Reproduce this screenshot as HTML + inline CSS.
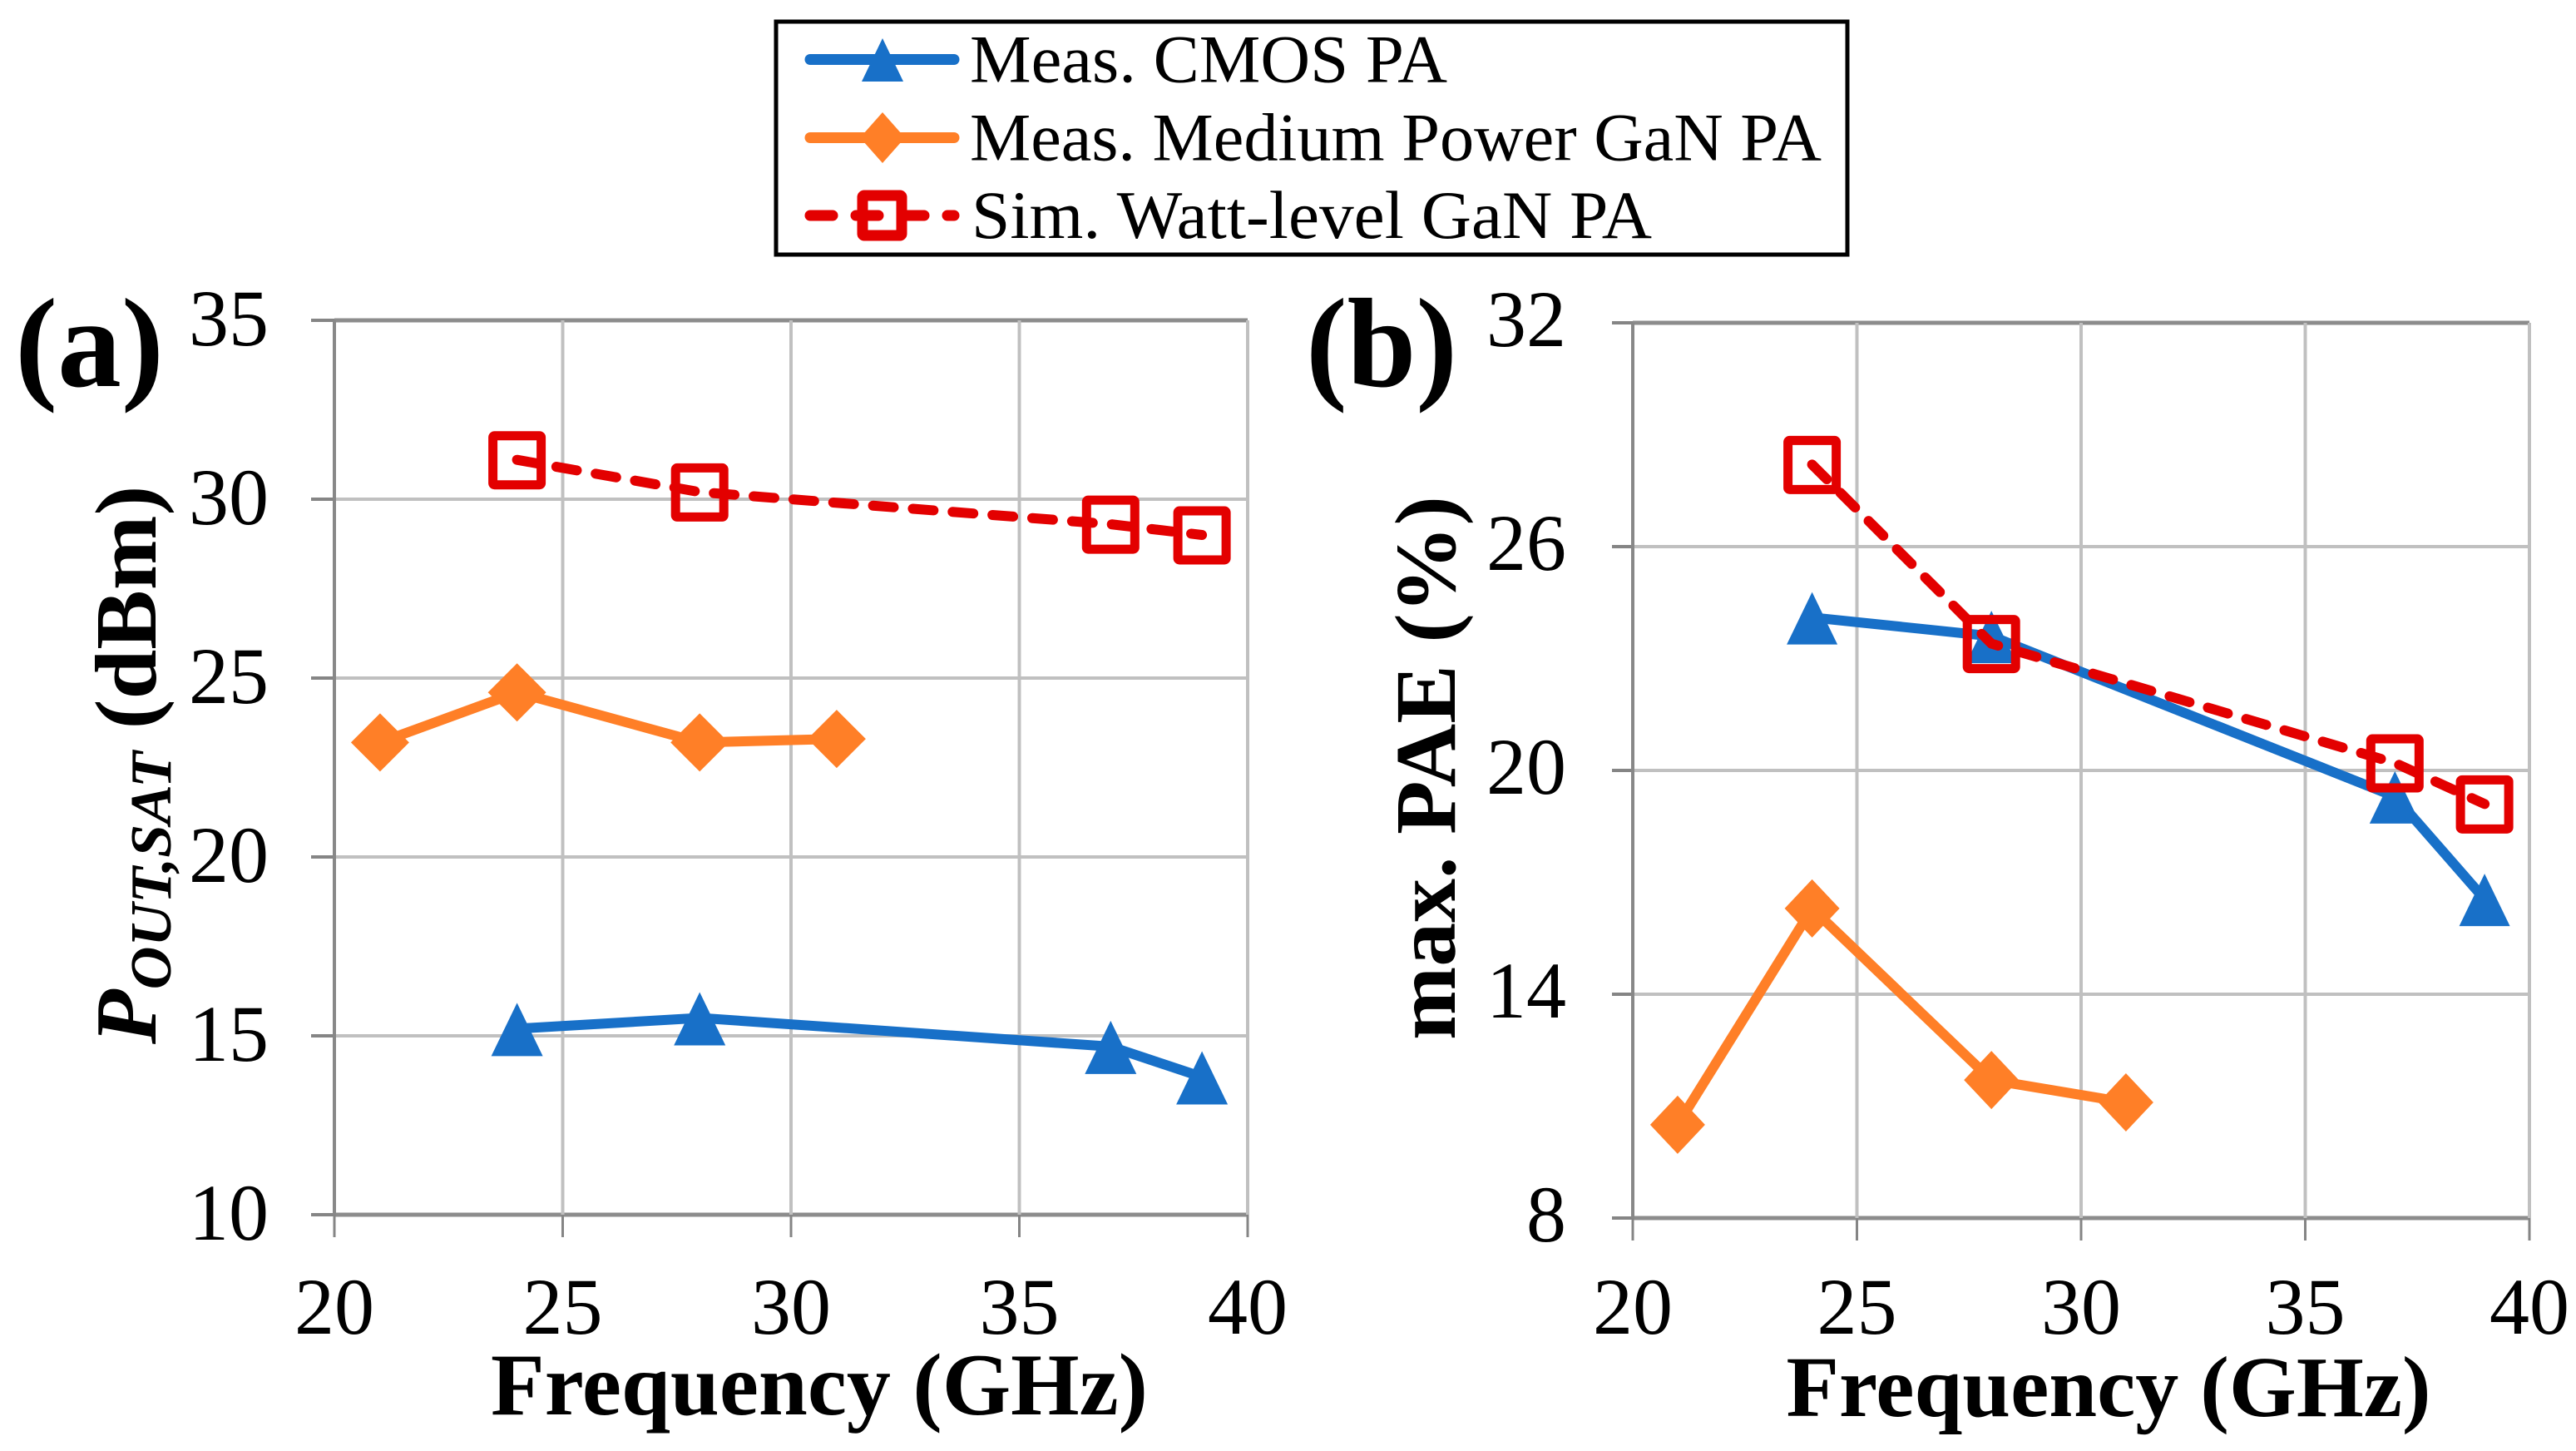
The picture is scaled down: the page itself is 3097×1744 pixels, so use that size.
<!DOCTYPE html>
<html lang="en">
<head>
<meta charset="utf-8">
<title>PA comparison: saturated output power and max PAE vs frequency</title>
<style>
html,body{margin:0;padding:0;background:#fff;width:3097px;height:1744px;overflow:hidden}
svg{display:block}
text{font-family:"Liberation Serif","Times New Roman",serif;fill:#000}
.tick{font-size:96px}
.title{font-size:105px;font-weight:bold}
.panel{font-size:153px;font-weight:bold}
.legend{font-size:82px}
</style>
</head>
<body>
<svg id="figure" xmlns="http://www.w3.org/2000/svg" width="3097" height="1744" viewBox="0 0 3097 1744">
  <rect x="0" y="0" width="3097" height="1744" fill="#fff"/>

  <g id="panel-a"></g>
  <g id="panel-b"></g>

  <text class="panel" x="18" y="464" textLength="179" lengthAdjust="spacingAndGlyphs">(a)</text>
  <text class="panel" x="1570" y="464" textLength="182" lengthAdjust="spacingAndGlyphs">(b)</text>

  <text class="title" transform="translate(187 1255) rotate(-90) scale(1.024 1)"><tspan font-style="italic">P</tspan><tspan font-style="italic" font-size="70" dy="18">OUT,SAT</tspan><tspan dy="-18"> (dBm)</tspan></text>
  <text class="title" transform="translate(1749 1250) rotate(-90) scale(1.018 1)" style="font-size:104px">max. PAE (%)</text>
  <text class="title" x="985" y="1700" text-anchor="middle" style="font-size:106px">Frequency (GHz)</text>
  <text class="title" x="2535" y="1702" text-anchor="middle" style="font-size:104px">Frequency (GHz)</text>

  <g>
    <rect x="933" y="26" width="1288" height="280" fill="#fff" stroke="#000" stroke-width="5"/>
    <g>
      <line x1="974" y1="71.5" x2="1147" y2="71.5" stroke="#1870c8" stroke-width="13" stroke-linecap="round"/>
      <polygon points="1061,46 1086,98 1036,98" fill="#1870c8"/>
      <text class="legend" x="1166" y="98.5" textLength="574" lengthAdjust="spacingAndGlyphs">Meas. CMOS PA</text>
    </g>
    <g>
      <line x1="974" y1="165.5" x2="1147" y2="165.5" stroke="#ff7f27" stroke-width="13" stroke-linecap="round"/>
      <polygon points="1061,135 1088,165.5 1061,196 1034,165.5" fill="#ff7f27"/>
      <text class="legend" x="1166" y="192.5" textLength="1024" lengthAdjust="spacingAndGlyphs">Meas. Medium Power GaN PA</text>
    </g>
    <g>
      <line x1="974" y1="259" x2="1147" y2="259" stroke="#e30000" stroke-width="13" stroke-linecap="round" stroke-dasharray="27 28"/>
      <rect x="1037" y="235" width="47" height="48" rx="2" fill="none" stroke="#e30000" stroke-width="13"/>
      <text class="legend" x="1168" y="286" textLength="818" lengthAdjust="spacingAndGlyphs">Sim. Watt-level GaN PA</text>
    </g>
  </g>
</svg>

<script>
// Axis tick labels
var xTickLabels = [20, 25, 30, 35, 40];
var powerTickLabels = [10, 15, 20, 25, 30, 35];
var paeTickLabels = [8, 14, 20, 26, 32];

// Categories (frequency in GHz)
var cmosFrequencies = [24, 28, 37, 39];
var mediumGanFrequencies = [21, 24, 28, 31];
var wattGanFrequencies = [24, 28, 37, 39];

// Panel (a): saturated output power in dBm
var cmosPower = [15.2, 15.5, 14.7, 13.85];
var mediumGanPower = [23.2, 24.6, 23.2, 23.3];
var wattGanPower = [31.1, 30.2, 29.3, 29.0];

// Panel (b): maximum PAE in percent
var cmosPae = [24.1, 23.6, 19.3, 16.55];
var mediumGanPae = [10.5, 16.3, 11.7, 11.1];
var wattGanPae = [28.2, 23.4, 20.2, 19.1];

var SVG_NS = 'http://www.w3.org/2000/svg';

function make(tag, attrs, parent) {
  var el = document.createElementNS(SVG_NS, tag);
  for (var k in attrs) { el.setAttribute(k, attrs[k]); }
  parent.appendChild(el);
  return el;
}

function drawPanel(root, frame, yLabels, cmosVals, mediumVals, wattVals, marks) {
  var xMin = xTickLabels[0], xMax = xTickLabels[xTickLabels.length - 1];
  var yMin = yLabels[0], yMax = yLabels[yLabels.length - 1];
  function sx(v) { return frame.left + (v - xMin) / (xMax - xMin) * (frame.right - frame.left); }
  function sy(v) { return frame.bottom - (v - yMin) / (yMax - yMin) * (frame.bottom - frame.top); }

  yLabels.forEach(function (v) {
    var isEdge = (v === yMin || v === yMax);
    var grid = make('line', {x1: frame.left, x2: frame.right, y1: sy(v), y2: sy(v), stroke: isEdge ? '#8c8c8c' : '#c0c0c0', 'stroke-width': isEdge ? 5 : 4}, root);
    
    
    var tick = make('line', {x1: frame.tickLeft, x2: frame.left, y1: sy(v), y2: sy(v), stroke: '#858585', 'stroke-width': 4}, root);
    
    
    var label = make('text', {'class': 'tick', x: frame.labelRight, y: sy(v) + frame.labelDrop, 'text-anchor': 'end'}, root);
    
    
    label.textContent = v;
  });

  xTickLabels.forEach(function (v) {
    var isLeft = (v === xMin);
    var grid = make('line', {x1: sx(v), x2: sx(v), y1: frame.top, y2: frame.bottom, stroke: isLeft ? '#888888' : '#c0c0c0', 'stroke-width': 4}, root);
    
    
    var tick = make('line', {x1: sx(v), x2: sx(v), y1: frame.bottom, y2: frame.tickBottom, stroke: '#858585', 'stroke-width': 3}, root);
    
    
    var label = make('text', {'class': 'tick', x: sx(v), y: 1603, 'text-anchor': 'middle'}, root);
    
    
    label.textContent = v;
  });

  function path(xs, ys) {
    return xs.map(function (x, i) { return sx(x) + ',' + sy(ys[i]); }).join(' ');
  }

  // CMOS series
  var cmosLine = make('polyline', {points: path(cmosFrequencies, cmosVals), fill: 'none', stroke: '#1870c8', 'stroke-width': 12}, root);
  
  
  cmosFrequencies.forEach(function (f, i) {
    var cx = sx(f), cy = sy(cmosVals[i]), h = marks.tri / 2;
    var p = make('polygon', {points: cx + ',' + (cy - h) + ' ' + (cx + h) + ',' + (cy + h + 2) + ' ' + (cx - h) + ',' + (cy + h + 2), fill: '#1870c8'}, root);
    
    
  });

  // Medium power GaN series
  var mediumLine = make('polyline', {points: path(mediumGanFrequencies, mediumVals), fill: 'none', stroke: '#ff7f27', 'stroke-width': 12}, root);
  
  
  mediumGanFrequencies.forEach(function (f, i) {
    var cx = sx(f), cy = sy(mediumVals[i]), w = marks.dia / 2, h = 35;
    var p = make('polygon', {points: cx + ',' + (cy - h) + ' ' + (cx + w) + ',' + cy + ' ' + cx + ',' + (cy + h) + ' ' + (cx - w) + ',' + cy, fill: '#ff7f27'}, root);
    
    
  });

  // Watt-level GaN series
  var wattLine = make('polyline', {points: path(wattGanFrequencies, wattVals), fill: 'none', stroke: '#e30000', 'stroke-width': 12, 'stroke-linecap': 'round', 'stroke-dasharray': '25 23'}, root);
  
  
  wattGanFrequencies.forEach(function (f, i) {
    var cx = sx(f), cy = sy(wattVals[i]);
    var p = make('rect', {x: cx - 29, y: cy - 29, width: 58, height: 59, rx: 2, fill: 'none', stroke: '#e30000', 'stroke-width': 11}, root);
    
    
  });
}

drawPanel(document.getElementById('panel-a'),
  {left: 402, right: 1500, top: 385, bottom: 1460, tickLeft: 374, tickBottom: 1487, labelRight: 323, labelDrop: 30},
  powerTickLabels, cmosPower, mediumGanPower, wattGanPower, {tri: 62, dia: 70});

drawPanel(document.getElementById('panel-b'),
  {left: 1963, right: 3041, top: 388, bottom: 1464, tickLeft: 1938, tickBottom: 1491, labelRight: 1883, labelDrop: 28},
  paeTickLabels, cmosPae, mediumGanPae, wattGanPae, {tri: 61, dia: 66});
</script>
</body>
</html>
